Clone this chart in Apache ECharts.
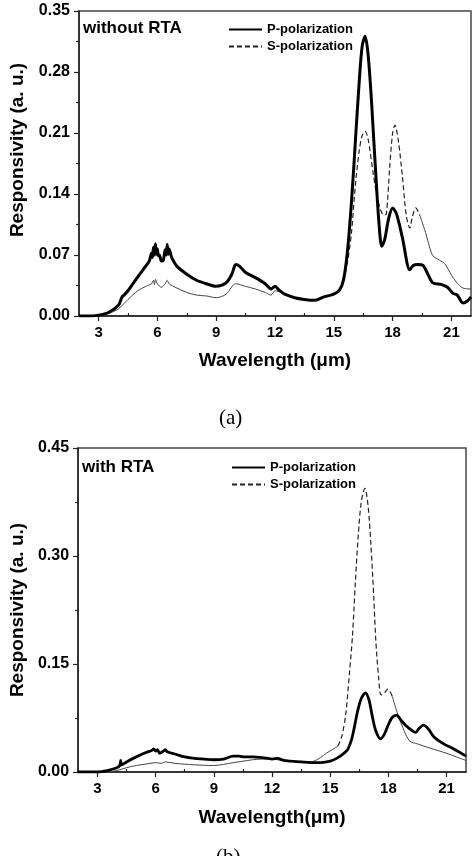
<!DOCTYPE html>
<html>
<head>
<meta charset="utf-8">
<script src="https://cdn.jsdelivr.net/npm/echarts@6/dist/echarts.min.js"></script>
<style>
  html, body { margin: 0; padding: 0; background: #fff; }
  #main { width: 475px; height: 856px; }
</style>
</head>
<body>
<div id="main"></div>
<script>
// (a) without RTA
const waveAP = [2.0, 2.5, 3.0, 3.5, 4.0, 4.2, 4.3, 4.5, 5.0, 5.5, 5.6, 5.7, 5.75, 5.8, 5.85, 5.9, 5.95, 6.0, 6.05, 6.1, 6.2, 6.3, 6.4, 6.45, 6.5, 6.55, 6.6, 6.7, 6.8, 7.0, 7.5, 8.0, 8.5, 9.0, 9.5, 9.8, 10.0, 10.2, 10.5, 11.0, 11.5, 11.8, 12.0, 12.2, 12.5, 13.0, 13.5, 14.0, 14.5, 15.0, 15.3, 15.5, 15.7, 15.9, 16.1, 16.3, 16.45, 16.6, 16.75, 16.9, 17.0, 17.15, 17.3, 17.45, 17.6, 17.8, 18.0, 18.2, 18.5, 18.88, 19.05, 19.3, 19.55, 19.8, 20.06, 20.5, 20.8, 21.08, 21.3, 21.59, 21.8, 22.0];
const pA = [0.000, 0.000, 0.001, 0.004, 0.012, 0.022, 0.024, 0.029, 0.045, 0.060, 0.064, 0.072, 0.067, 0.079, 0.070, 0.083, 0.071, 0.077, 0.069, 0.070, 0.063, 0.064, 0.076, 0.070, 0.082, 0.071, 0.077, 0.069, 0.064, 0.057, 0.048, 0.041, 0.037, 0.034, 0.038, 0.048, 0.059, 0.057, 0.050, 0.044, 0.037, 0.031, 0.034, 0.030, 0.025, 0.021, 0.019, 0.018, 0.022, 0.025, 0.030, 0.042, 0.075, 0.130, 0.200, 0.270, 0.310, 0.321, 0.300, 0.255, 0.217, 0.160, 0.108, 0.080, 0.088, 0.112, 0.124, 0.117, 0.090, 0.053, 0.058, 0.059, 0.058, 0.048, 0.038, 0.036, 0.033, 0.026, 0.024, 0.015, 0.017, 0.022];
const waveAS = [2.0, 2.5, 3.0, 3.5, 4.0, 4.5, 5.0, 5.5, 5.7, 5.8, 5.85, 5.9, 6.0, 6.2, 6.4, 6.5, 6.6, 7.0, 7.5, 8.0, 8.5, 9.0, 9.5, 10.0, 10.5, 11.0, 11.5, 11.8, 12.0, 12.2, 12.5, 13.0, 13.5, 14.0, 14.5, 15.0, 15.3, 15.5, 15.7, 15.9, 16.1, 16.3, 16.45, 16.6, 16.75, 17.0, 17.2, 17.4, 17.55, 17.68, 17.85, 18.0, 18.12, 18.3, 18.5, 18.7, 18.88, 19.0, 19.18, 19.4, 19.72, 19.9, 20.06, 20.4, 20.66, 21.0, 21.25, 21.6, 22.0];
const sA = [0.000, 0.000, 0.001, 0.003, 0.008, 0.019, 0.029, 0.035, 0.037, 0.041, 0.036, 0.042, 0.037, 0.033, 0.037, 0.041, 0.037, 0.032, 0.027, 0.024, 0.023, 0.021, 0.025, 0.037, 0.034, 0.031, 0.027, 0.024, 0.029, 0.028, 0.025, 0.021, 0.019, 0.018, 0.022, 0.025, 0.030, 0.040, 0.062, 0.095, 0.150, 0.190, 0.207, 0.212, 0.203, 0.165, 0.138, 0.121, 0.116, 0.117, 0.170, 0.210, 0.219, 0.200, 0.160, 0.115, 0.101, 0.113, 0.124, 0.115, 0.093, 0.078, 0.069, 0.064, 0.060, 0.047, 0.039, 0.032, 0.031];

// (b) with RTA
const waveBP = [2.0, 3.0, 3.5, 4.0, 4.15, 4.2, 4.25, 4.5, 5.0, 5.5, 5.8, 5.9, 6.0, 6.1, 6.2, 6.4, 6.5, 6.6, 7.0, 7.5, 8.0, 8.5, 9.0, 9.5, 10.0, 10.3, 10.6, 11.0, 11.5, 12.0, 12.3, 12.6, 13.0, 13.5, 14.0, 14.5, 15.0, 15.4, 15.7, 15.9, 16.1, 16.25, 16.4, 16.6, 16.82, 17.0, 17.15, 17.34, 17.6, 17.8, 18.0, 18.2, 18.42, 18.65, 18.88, 19.2, 19.4, 19.6, 19.8, 20.05, 20.34, 20.85, 21.37, 22.0];
const pB = [0.000, 0.000, 0.002, 0.006, 0.009, 0.016, 0.010, 0.014, 0.021, 0.027, 0.030, 0.032, 0.029, 0.031, 0.026, 0.029, 0.031, 0.028, 0.025, 0.021, 0.019, 0.018, 0.017, 0.018, 0.022, 0.022, 0.021, 0.021, 0.020, 0.018, 0.019, 0.016, 0.015, 0.014, 0.013, 0.013, 0.015, 0.020, 0.026, 0.031, 0.045, 0.063, 0.083, 0.102, 0.110, 0.100, 0.080, 0.058, 0.046, 0.053, 0.066, 0.076, 0.079, 0.072, 0.065, 0.058, 0.055, 0.061, 0.065, 0.060, 0.049, 0.039, 0.032, 0.022];
const waveBS = [2.0, 3.5, 4.0, 4.5, 5.0, 5.5, 6.0, 6.3, 6.5, 7.0, 8.0, 9.0, 10.0, 10.5, 11.0, 11.5, 12.0, 12.5, 13.0, 13.5, 14.0, 14.5, 14.8, 15.1, 15.4, 15.6, 15.8, 16.0, 16.15, 16.3, 16.45, 16.6, 16.79, 16.95, 17.1, 17.25, 17.35, 17.5, 17.62, 17.8, 17.97, 18.2, 18.45, 18.8, 19.1, 19.5, 20.17, 21.0, 21.5, 22.0];
const sB = [0.000, 0.000, 0.002, 0.006, 0.009, 0.011, 0.013, 0.012, 0.014, 0.012, 0.010, 0.009, 0.013, 0.015, 0.017, 0.018, 0.018, 0.016, 0.015, 0.014, 0.014, 0.020, 0.026, 0.031, 0.036, 0.050, 0.080, 0.140, 0.190, 0.265, 0.330, 0.375, 0.394, 0.370, 0.315, 0.240, 0.183, 0.130, 0.107, 0.110, 0.115, 0.105, 0.083, 0.058, 0.043, 0.039, 0.033, 0.026, 0.021, 0.016];

const majorX = [3, 6, 9, 12, 15, 18, 21];
const minorX = [4.5, 7.5, 10.5, 13.5, 16.5, 19.5];

const font = "'Liberation Sans', Arial, sans-serif";

const pairs = (xs, ys) => xs.map((x, i) => [x, ys[i]]);
// S curve: dashed on the steep part, thin solid elsewhere
const dashPart = (xs, ys, lo, hi) => pairs(xs, ys).filter(d => d[0] >= lo && d[0] <= hi);
const thinPart = (xs, ys, lo, hi) => pairs(xs, ys).map(d => (d[0] > lo && d[0] < hi) ? [d[0], '-'] : d);

const xMain = (grid, nameText, gap) => ({
  gridIndex: grid,
  type: 'value',
  min: 2,
  max: 22,
  name: nameText,
  nameLocation: 'middle',
  nameGap: gap,
  nameTextStyle: { fontFamily: font, fontWeight: 'bold', fontSize: 19, color: '#000' },
  axisLine: { show: true, onZero: false, lineStyle: { color: '#222', width: 1.5 } },
  axisTick: { show: true, length: 5, customValues: majorX, lineStyle: { color: '#222', width: 1.2 } },
  axisLabel: { customValues: majorX, margin: 9, fontFamily: font, fontWeight: 'bold', fontSize: 15, color: '#000' },
  splitLine: { show: false }
});

const xMinor = (grid) => ({
  gridIndex: grid,
  type: 'value',
  min: 2,
  max: 22,
  axisLine: { show: false },
  axisTick: { show: true, length: 3, customValues: minorX, lineStyle: { color: '#222', width: 1.2 } },
  axisLabel: { show: false },
  splitLine: { show: false }
});

const yAxis = (grid, max, step, gap, shift) => ({
  gridIndex: grid,
  type: 'value',
  min: 0,
  max: max,
  interval: step,
  name: 'Responsivity (a. u.)',
  nameLocation: 'middle',
  nameGap: gap,
  nameTextStyle: { fontFamily: font, fontWeight: 'bold', fontSize: 19, color: '#000', padding: [0, 0, 0, shift] },
  axisLine: { show: true, lineStyle: { color: '#222', width: 1.5 } },
  axisTick: { show: true, length: 5, lineStyle: { color: '#222', width: 1.2 } },
  minorTick: { show: true, splitNumber: 2, length: 3, lineStyle: { color: '#222', width: 1.2 } },
  axisLabel: { margin: 9, fontFamily: font, fontWeight: 'bold', fontSize: 16, color: '#000', formatter: v => v.toFixed(2) },
  splitLine: { show: false }
});

const line = (name, xi, yi, data, width, color, type) => ({
  name: name,
  type: 'line',
  xAxisIndex: xi,
  yAxisIndex: yi,
  data: data,
  symbol: 'none',
  showSymbol: false,
  smooth: 0.3,
  connectNulls: false,
  lineStyle: { width: width, color: color, type: type },
  itemStyle: { color: color },
  z: name === 'P-polarization' ? 3 : 2
});

const legend = (left, top) => ({
  orient: 'vertical',
  left: left,
  top: top,
  itemWidth: 33,
  itemHeight: 14,
  itemGap: 4,
  itemStyle: { opacity: 0 },
  data: ['P-polarization', 'S-polarization'],
  textStyle: { fontFamily: font, fontWeight: 'bold', fontSize: 13, color: '#000' }
});

const myChart = echarts.init(document.getElementById('main'));

const option = {
  animation: false,
  backgroundColor: '#fff',
  grid: [
    { left: 78, top: 11, width: 393, height: 305, show: true, borderColor: '#444', borderWidth: 1.5 },
    { left: 77, top: 448, width: 389, height: 324, show: true, borderColor: '#444', borderWidth: 1.5 }
  ],
  xAxis: [
    xMain(0, 'Wavelength (\u03bcm)', 35),
    xMinor(0),
    xMain(1, 'Wavelength(\u03bcm)', 36),
    xMinor(1)
  ],
  yAxis: [
    yAxis(0, 0.35, 0.07, 52, 27),
    yAxis(1, 0.45, 0.15, 51, 0)
  ],
  legend: [legend(223, 18), legend(226, 456)],
  graphic: [
    { type: 'text', left: 83, top: 20, style: { text: 'without RTA', font: 'bold 17px ' + font, fill: '#000' } },
    { type: 'text', left: 82, top: 459, style: { text: 'with RTA', font: 'bold 17px ' + font, fill: '#000' } },
    { type: 'text', left: 219, top: 408, style: { text: '(a)', font: "21px 'Liberation Serif', 'Times New Roman', serif", fill: '#000' } },
    { type: 'text', left: 216, top: 847, style: { text: '(b)', font: "21px 'Liberation Serif', 'Times New Roman', serif", fill: '#000' } }
  ],
  series: [
    line('P-polarization', 0, 0, pairs(waveAP, pA), 3, '#000', 'solid'),
    line('S-polarization', 0, 0, dashPart(waveAS, sA, 15.5, 19.4), 1.2, '#222', [5, 3]),
    line('S-thin-a', 0, 0, thinPart(waveAS, sA, 15.5, 19.4), 1, '#444', 'solid'),
    line('P-polarization', 2, 1, pairs(waveBP, pB), 2.8, '#000', 'solid'),
    line('S-polarization', 2, 1, dashPart(waveBS, sB, 15.4, 18.2), 1.2, '#222', [5, 3]),
    line('S-thin-b', 2, 1, thinPart(waveBS, sB, 15.4, 18.2), 1, '#444', 'solid')
  ]
};

myChart.setOption(option);
window.addEventListener('resize', () => {
  myChart.resize()
})
</script>
</body>
</html>
